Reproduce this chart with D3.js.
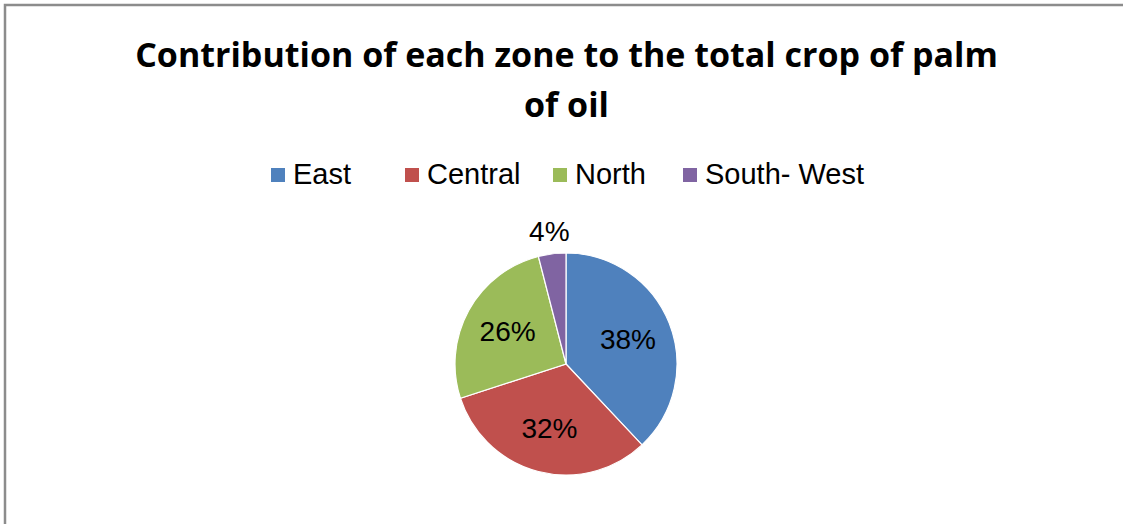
<!DOCTYPE html>
<html>
<head>
<meta charset="utf-8">
<script src="https://cdn.jsdelivr.net/npm/d3@7"></script>
<style>
  html, body { margin: 0; padding: 0; background: #ffffff; }
  svg { display: block; }
</style>
</head>
<body>
<svg id="chart" width="1123" height="524"></svg>
<script>
// Zones and their share of the total palm oil crop (percent)
const zones = ["East", "Central", "North", "South- West"];
const shares = [38, 32, 26, 4];
const zoneColors = ["#4F81BD", "#C0504D", "#9BBB59", "#8064A2"];
const titleLines = ["Contribution of each zone to the total crop of palm", "of oil"];

const W = 1123, H = 524;
const svg = d3.select("#chart");

// Chart area frame (runs off the right and bottom edges)
svg.append("rect")
  .attr("x", 5).attr("y", 5)
  .attr("width", W + 20).attr("height", H + 20)
  .attr("fill", "#ffffff")
  .attr("stroke", "#8c8c8c")
  .attr("stroke-width", 2.5);

// Title: two centred bold lines, first line fitted to its width
const titleFont = "'Open Sans', 'Noto Sans', sans-serif";
const cx = 566.5;
const line1 = svg.append("text")
  .attr("x", cx).attr("y", 67)
  .attr("text-anchor", "middle")
  .attr("font-family", titleFont)
  .attr("font-weight", "bold")
  .attr("font-size", 100)
  .attr("fill", "#000")
  .text(titleLines[0]);
const w100 = line1.node().getComputedTextLength();
const titleSize = 100 * 863 / w100;
line1.attr("font-size", titleSize);
svg.append("text")
  .attr("x", cx).attr("y", 117)
  .attr("text-anchor", "middle")
  .attr("font-family", titleFont)
  .attr("font-weight", "bold")
  .attr("font-size", titleSize)
  .attr("fill", "#000")
  .text(titleLines[1]);

// Legend
const legendFont = "'Liberation Sans', Arial, sans-serif";
const legendX = [271, 405, 553, 683];
const color = d3.scaleOrdinal().domain(zones).range(zoneColors);
const legend = svg.append("g");
zones.forEach((z, i) => {
  const g = legend.append("g").attr("transform", `translate(${legendX[i]},0)`);
  g.append("rect")
    .attr("x", 0).attr("y", 168)
    .attr("width", 14).attr("height", 14)
    .attr("fill", color(z));
  g.append("text")
    .attr("x", 22).attr("y", 184)
    .attr("font-family", legendFont)
    .attr("font-size", 29)
    .attr("fill", "#000")
    .text(z);
});

// Pie
const pcx = 566, pcy = 364, R = 111;
const pie = d3.pie().sort(null).value(d => d.value);
const arcs = pie(zones.map((z, i) => ({ zone: z, value: shares[i] })));
const arc = d3.arc().innerRadius(0).outerRadius(R);
const pieG = svg.append("g").attr("transform", `translate(${pcx},${pcy})`);

pieG.selectAll("path.slice")
  .data(arcs)
  .join("path")
  .attr("class", "slice")
  .attr("d", arc)
  .attr("fill", d => color(d.data.zone))
  .attr("stroke", "#ffffff")
  .attr("stroke-width", 1.2);

// Percentage labels: inside for the large slices, outside for the small one
const inner = d3.arc().innerRadius(R * 0.6).outerRadius(R * 0.6);
const outer = d3.arc().innerRadius(R * 1.2).outerRadius(R * 1.2);
pieG.selectAll("text.pct")
  .data(arcs)
  .join("text")
  .attr("class", "pct")
  .attr("transform", d => {
    const p = (d.data.value < 10 ? outer : inner).centroid(d);
    return `translate(${p[0]},${p[1]})`;
  })
  .attr("text-anchor", "middle")
  .attr("dominant-baseline", "central")
  .attr("font-family", legendFont)
  .attr("font-size", 28)
  .attr("fill", "#000")
  .text(d => d.data.value + "%");
</script>
</body>
</html>
